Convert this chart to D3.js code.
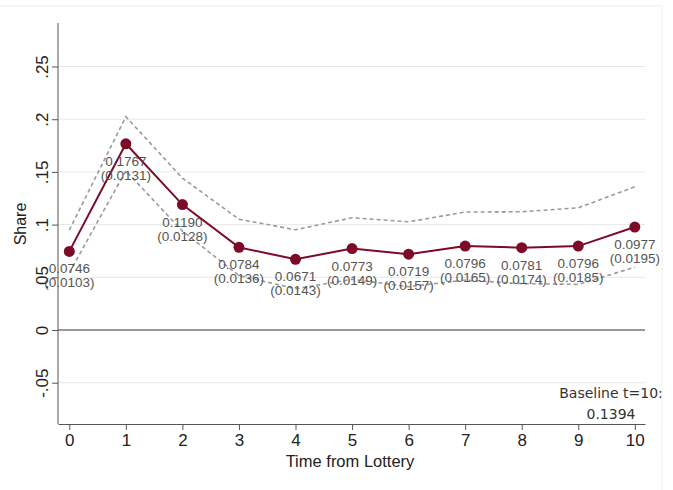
<!DOCTYPE html>
<html>
<head>
<meta charset="utf-8">
<script src="https://cdn.jsdelivr.net/npm/d3@7"></script>
<style>
  body { margin: 0; background: #fff; }
  svg { display: block; }
</style>
</head>
<body>
<div id="chart"></div>
<script>
// data
var periods   = [0, 1, 2, 3, 4, 5, 6, 7, 8, 9, 10];
var estimates = [0.0746, 0.1767, 0.1190, 0.0784, 0.0671, 0.0773, 0.0719, 0.0796, 0.0781, 0.0796, 0.0977];
var std_errs  = [0.0103, 0.0131, 0.0128, 0.0136, 0.0143, 0.0149, 0.0157, 0.0165, 0.0174, 0.0185, 0.0195];
var ci_upper  = [0.0948, 0.2024, 0.1441, 0.1051, 0.0951, 0.1065, 0.1027, 0.1119, 0.1122, 0.1159, 0.1359];
var ci_lower  = [0.0544, 0.1510, 0.0939, 0.0517, 0.0391, 0.0481, 0.0411, 0.0473, 0.0440, 0.0433, 0.0595];
var y_ticks   = [-0.05, 0, 0.05, 0.1, 0.15, 0.2, 0.25];
var y_labels  = ["-.05", "0", ".05", ".1", ".15", ".2", ".25"];
var baseline_label = "Baseline t=10:";
var baseline_value = "0.1394";

function draw_share_chart() {
    var width = 673, height = 490;
    var left = 58, right = 645, top = 23, bottom = 424;

    var svg = d3.select("#chart")
        .append("svg")
        .attr("width", width)
        .attr("height", height);

    // faint outer frame
    svg.append("rect")
        .attr("x", -1).attr("y", 6)
        .attr("width", 663).attr("height", 500)
        .attr("fill", "none")
        .attr("stroke", "#eeeeee");

    var x = d3.scaleLinear()
        .domain([-0.2, 10.18])
        .range([left, right]);

    var y = d3.scaleLinear()
        .domain([-0.0892, 0.2913])
        .range([bottom, top]);

    // grid
    svg.append("g")
        .selectAll("line")
        .data(y_ticks)
        .enter().append("line")
        .attr("x1", left).attr("x2", right)
        .attr("y1", function(d) { return y(d); })
        .attr("y2", function(d) { return y(d); })
        .attr("stroke", function(d) { return d === 0 ? "#333" : "#e8e8e8"; })
        .attr("stroke-width", function(d) { return d === 0 ? 1.2 : 1; });

    // y axis
    var yAxis = svg.append("g")
        .attr("transform", "translate(" + left + ",0)")
        .call(d3.axisLeft(y)
            .tickValues(y_ticks)
            .tickFormat(function(d, i) { return y_labels[i]; })
            .tickSize(6)
            .tickSizeOuter(0));
    yAxis.select(".domain").attr("stroke", "#555").attr("d", "M0," + top + "V" + bottom);
    yAxis.selectAll(".tick line").attr("stroke", "#555");
    yAxis.selectAll(".tick text")
        .attr("transform", "rotate(-90)")
        .attr("x", 0)
        .attr("y", -10)
        .attr("dy", 0)
        .attr("text-anchor", "middle")
        .attr("font-family", "Liberation Sans, Arial, sans-serif")
        .attr("font-size", 17)
        .attr("fill", "#222");

    // x axis
    var xAxis = svg.append("g")
        .attr("transform", "translate(0," + bottom + ")")
        .call(d3.axisBottom(x)
            .tickValues(periods)
            .tickFormat(d3.format("d"))
            .tickSize(6)
            .tickSizeOuter(0));
    xAxis.select(".domain").attr("stroke", "#555");
    xAxis.selectAll(".tick line").attr("stroke", "#555");
    xAxis.selectAll(".tick text")
        .attr("y", 10)
        .attr("dy", "0.71em")
        .attr("font-family", "Liberation Sans, Arial, sans-serif")
        .attr("font-size", 17)
        .attr("fill", "#222");

    // axis titles
    svg.append("text")
        .attr("x", 350).attr("y", 467)
        .attr("text-anchor", "middle")
        .attr("font-family", "Liberation Sans, Arial, sans-serif")
        .attr("font-size", 16.5)
        .attr("fill", "#222")
        .text("Time from Lottery");

    svg.append("text")
        .attr("transform", "translate(26,224) rotate(-90)")
        .attr("text-anchor", "middle")
        .attr("font-family", "Liberation Sans, Arial, sans-serif")
        .attr("font-size", 16)
        .attr("fill", "#222")
        .text("Share");

    // confidence bands
    var band = function(vals) {
        return d3.line()
            .x(function(d, i) { return x(periods[i]); })
            .y(function(d) { return y(d); })(vals);
    };
    [ci_upper, ci_lower].forEach(function(vals) {
        svg.append("path")
            .attr("d", band(vals))
            .attr("fill", "none")
            .attr("stroke", "#9a9a9a")
            .attr("stroke-width", 1.6)
            .attr("stroke-dasharray", "4,3");
    });

    // estimate line + markers
    svg.append("path")
        .attr("d", band(estimates))
        .attr("fill", "none")
        .attr("stroke", "#7d0a26")
        .attr("stroke-width", 2);

    svg.append("g")
        .selectAll("circle")
        .data(estimates)
        .enter().append("circle")
        .attr("cx", function(d, i) { return x(periods[i]); })
        .attr("cy", function(d) { return y(d); })
        .attr("r", 5.5)
        .attr("fill", "#7d0a26");

    // value labels
    var labels = svg.append("g")
        .attr("font-family", "Liberation Sans, Arial, sans-serif")
        .attr("font-size", 13.5)
        .attr("fill", "#555")
        .attr("text-anchor", "middle");
    estimates.forEach(function(d, i) {
        labels.append("text")
            .attr("x", x(periods[i]))
            .attr("y", y(d) + 22)
            .text(d.toFixed(4));
        labels.append("text")
            .attr("x", x(periods[i]))
            .attr("y", y(d) + 36)
            .text("(" + std_errs[i].toFixed(4) + ")");
    });

    // baseline note
    svg.append("text")
        .attr("x", 611).attr("y", 398)
        .attr("text-anchor", "middle")
        .attr("font-family", "DejaVu Sans, sans-serif")
        .attr("font-size", 14)
        .attr("fill", "#333")
        .text(baseline_label);
    svg.append("text")
        .attr("x", 611).attr("y", 419)
        .attr("text-anchor", "middle")
        .attr("font-family", "DejaVu Sans, sans-serif")
        .attr("font-size", 14)
        .attr("fill", "#333")
        .text(baseline_value);
}

draw_share_chart();
</script>
</body>
</html>
